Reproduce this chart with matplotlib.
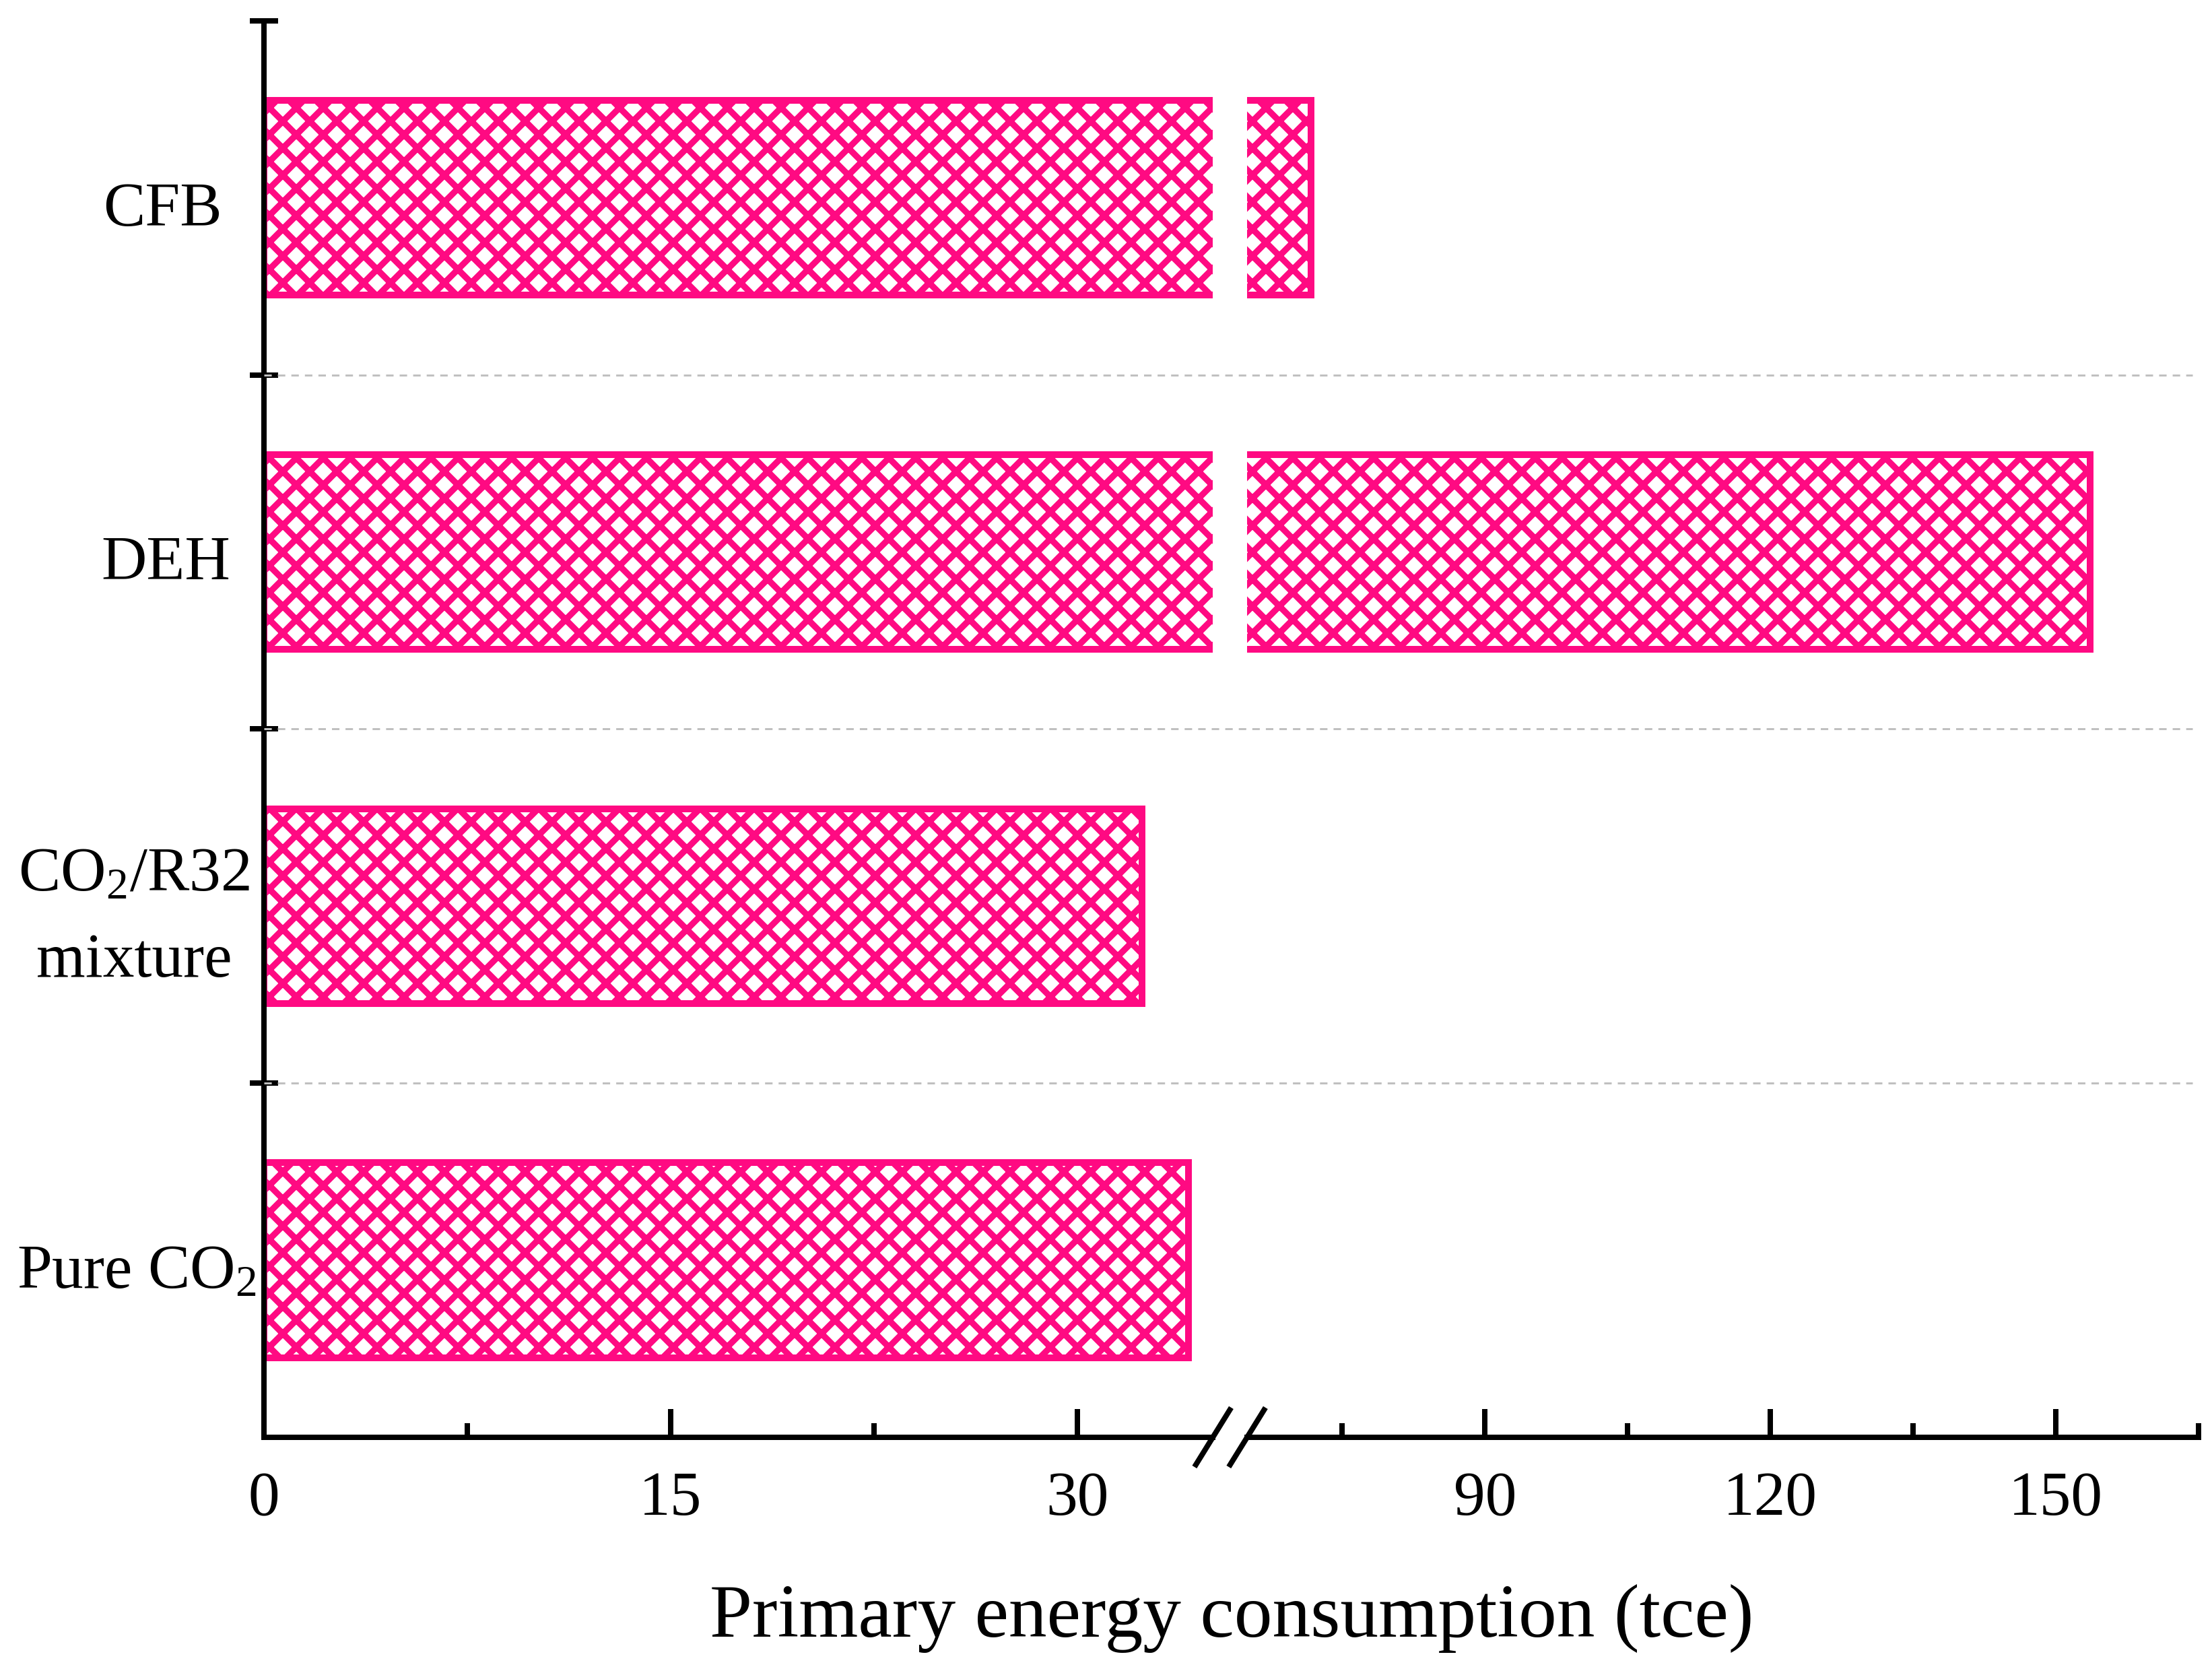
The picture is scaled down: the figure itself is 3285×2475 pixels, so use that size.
#!/usr/bin/env python3
import matplotlib
matplotlib.use('Agg')
import matplotlib.pyplot as plt
from matplotlib import transforms
from matplotlib.lines import Line2D
from matplotlib.ticker import FixedLocator

# data, bottom to top
categories = ['Pure CO$_2$', 'CO$_2$/R32\nmixture', 'DEH', 'CFB']
values = [34.1, 32.4, 153.6, 71.7]

# broken x axis: two pieces
left_range = (0, 35)
right_range = (65, 165)
left_major = [0, 15, 30]
left_minor = [7.5, 22.5]
right_major = [90, 120, 150]
right_minor = [75, 105, 135, 165]

# horizontal centre of each category label (axes fraction of left piece)
label_x = [-0.134, -0.137, -0.103, -0.107]

PINK = '#FF0A82'
DPI = 240
LW = 2.4

plt.rcParams.update({
    'font.family': 'Liberation Serif',
    'mathtext.fontset': 'custom',
    'mathtext.rm': 'Liberation Serif',
    'mathtext.it': 'Liberation Serif:italic',
    'mathtext.default': 'regular',
    'hatch.linewidth': 2.8,
})

fig = plt.figure(figsize=(3285 / DPI, 2475 / DPI), dpi=DPI)
bottom, height = 0.1378, 0.8497
ax1 = fig.add_axes([0.1193, bottom, 0.4290, height])
ax2 = fig.add_axes([0.5638, bottom, 0.4301, height])
ax2.set_facecolor('none')

ypos = list(range(len(categories)))
for ax, xr in ((ax1, left_range), (ax2, right_range)):
    ax.barh(ypos, values, height=0.55, color='white', edgecolor=PINK,
            linewidth=3.0, hatch='xx', zorder=2)
    ax.set_xlim(*xr)
    ax.set_ylim(-0.5, len(categories) - 0.5)
    for s in ('top', 'right'):
        ax.spines[s].set_visible(False)
    ax.spines['bottom'].set_linewidth(LW)
    ax.tick_params(axis='x', which='major', direction='in', length=12.6,
                   width=LW, pad=15, labelsize=28, top=False)
    ax.tick_params(axis='x', which='minor', direction='in', length=6.3,
                   width=LW, top=False)

ax2.spines['left'].set_visible(False)
ax2.tick_params(axis='y', left=False, labelleft=False)

ax1.spines['left'].set_linewidth(LW)
ax1.xaxis.set_major_locator(FixedLocator(left_major))
ax1.xaxis.set_minor_locator(FixedLocator(left_minor))
ax2.xaxis.set_major_locator(FixedLocator(right_major))
ax2.xaxis.set_minor_locator(FixedLocator(right_minor))

# y ticks at category boundaries
bounds = [i + 0.5 for i in range(len(categories))]
ax1.set_yticks(bounds)
ax1.tick_params(axis='y', which='major', direction='inout', length=12.6,
                width=LW, labelleft=False)

# category labels
lbl_tr = transforms.blended_transform_factory(ax1.transAxes, ax1.transData)
for y, lab, lx in zip(ypos, categories, label_x):
    ax1.text(lx, y - 0.035, lab, transform=lbl_tr, ha='center', va='center',
             multialignment='center', fontsize=28, linespacing=1.65)

# dashed separators, continuous across the break
grid_tr = transforms.blended_transform_factory(fig.transFigure, ax1.transData)
for yb in bounds[:-1]:
    fig.add_artist(Line2D([0.1193, 0.9912], [yb, yb], transform=grid_tr,
                          color='#C0C0C0', lw=0.9,
                          linestyle=(0, (3.7, 3.0)), zorder=0.5))

# break marks
dx, dy = 0.0083, 0.0178
for xc in (0.1193 + 0.4290, 0.5638):
    fig.add_artist(Line2D([xc - dx, xc + dx], [bottom - dy, bottom + dy],
                          transform=fig.transFigure, color='black', lw=LW,
                          solid_capstyle='butt'))

fig.text(0.557, 0.018, 'Primary energy consumption (tce)', fontsize=34,
         ha='center', va='baseline')

fig.savefig('out.png', dpi=DPI)
